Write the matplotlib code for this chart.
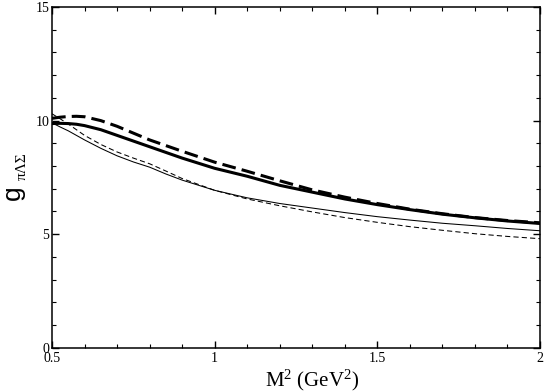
import numpy as np
import matplotlib
matplotlib.use("Agg")
import matplotlib.pyplot as plt
from matplotlib.ticker import MultipleLocator

plt.rcParams.update({
    "font.family": "serif",
    "font.serif": ["Liberation Serif", "DejaVu Serif"],
    "mathtext.fontset": "custom",
    "mathtext.rm": "Liberation Serif",
    "mathtext.it": "Liberation Serif",
})

# ---- data ------------------------------------------------------------------
m2 = [0.5, 0.525, 0.55, 0.575, 0.6, 0.65, 0.7, 0.75, 0.8, 0.85, 0.9, 1.0,
      1.1, 1.2, 1.3, 1.4, 1.5, 1.6, 1.7, 1.8, 1.9, 2.0]
thick_solid = [9.87, 9.88, 9.87, 9.84, 9.78, 9.60, 9.35, 9.10, 8.85, 8.60,
               8.35, 7.90, 7.55, 7.15, 6.85, 6.55, 6.30, 6.08, 5.88, 5.72,
               5.58, 5.47]
thick_dashed = [10.10, 10.15, 10.18, 10.19, 10.17, 10.00, 9.75, 9.45, 9.15,
                8.90, 8.65, 8.17, 7.77, 7.35, 6.95, 6.63, 6.35, 6.10, 5.90,
                5.73, 5.60, 5.50]
thin_solid = [9.90, 9.72, 9.55, 9.35, 9.15, 8.78, 8.45, 8.18, 7.95, 7.65,
              7.38, 6.93, 6.60, 6.35, 6.15, 5.95, 5.77, 5.62, 5.48, 5.37,
              5.25, 5.15]
thin_dashed = [10.30, 10.08, 9.85, 9.60, 9.35, 8.95, 8.62, 8.35, 8.10, 7.78,
               7.45, 6.93, 6.55, 6.25, 5.98, 5.73, 5.52, 5.33, 5.17, 5.02,
               4.90, 4.80]

fig = plt.figure(figsize=(5.45, 3.92), dpi=100)
ax = fig.add_axes([0.0954, 0.113, 0.8954, 0.869])

ax.plot(m2, thick_solid, color="black", lw=2.2)
ax.plot(m2, thick_dashed, color="black", lw=2.2, dashes=(4.5, 2))
ax.plot(m2, thin_solid, color="black", lw=0.75)
ax.plot(m2, thin_dashed, color="black", lw=0.75, dashes=(5, 3))

ax.set_xlim(0.5, 2.0)
ax.set_ylim(0, 15)
ax.xaxis.set_major_locator(MultipleLocator(0.5))
ax.xaxis.set_minor_locator(MultipleLocator(0.1))
ax.yaxis.set_major_locator(MultipleLocator(5))
ax.yaxis.set_minor_locator(MultipleLocator(1))
ax.xaxis.set_major_formatter(plt.FuncFormatter(lambda v, _: f"{v:g}"))
ax.tick_params(which="both", direction="in", top=True, right=True,
               labelsize=10)
ax.tick_params(axis="y", pad=2)
ax.tick_params(axis="x", pad=3)
ax.tick_params(which="major", length=5, width=1)
ax.tick_params(which="minor", length=3, width=0.8)
for s in ax.spines.values():
    s.set_linewidth(1.1)

ax.set_xlabel(r"M$^2$ (GeV$^2$)", fontsize=15)
ax.xaxis.set_label_coords(0.533, -0.058)

# y label: large "g" with a small greek subscript
fig.text(13 / 545, 1 - 193 / 392, "g", fontsize=19, family="Liberation Sans",
         rotation=90, ha="center", va="center")
fig.text(22 / 545, 1 - 166 / 392, "\u03c0\u039b\u03a3", fontsize=11,
         rotation=90, ha="center", va="center")

fig.savefig("out.png", dpi=100)
